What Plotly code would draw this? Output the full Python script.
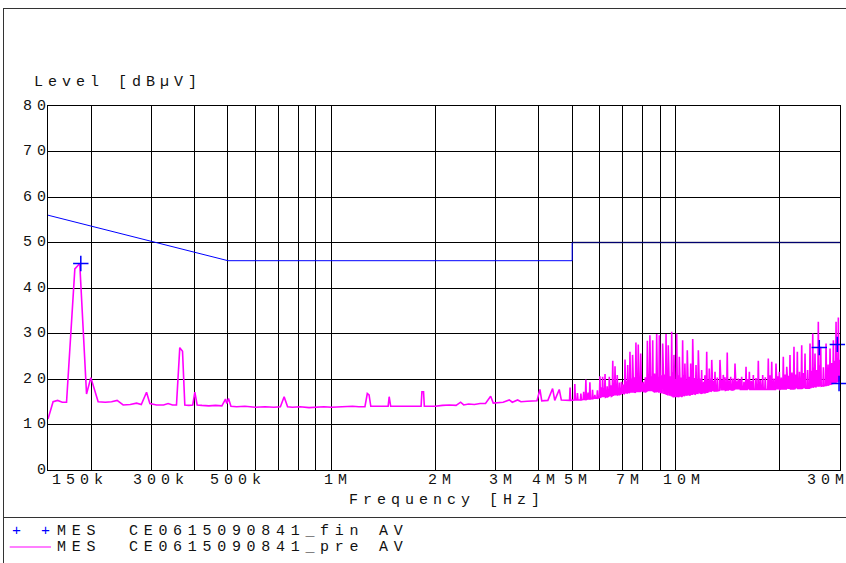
import numpy as np
import plotly.graph_objects as go

# ---------------- data ----------------
# Pre-scan (AV) trace, 150 kHz - 4.8 MHz, explicit points (MHz, dBuV)
lf_mhz = [0.150, 0.1552, 0.160, 0.165, 0.1698, 0.1795, 0.1830, 0.1855, 0.1941, 0.1998,
          0.2098, 0.2200, 0.2295, 0.2382, 0.2480, 0.2600, 0.2713, 0.2800, 0.2900, 0.2965,
          0.3100, 0.3250, 0.3350, 0.3450, 0.3543, 0.3622, 0.3689, 0.3746, 0.3850, 0.3950,
          0.4006, 0.4068, 0.4200, 0.4400, 0.4600, 0.4800, 0.4918, 0.4960, 0.5019, 0.5100,
          0.5300, 0.5600, 0.6000, 0.6400, 0.6800, 0.7100, 0.7280, 0.7450, 0.7700, 0.8100,
          0.8600, 0.9000, 0.9500, 1.000, 1.050, 1.100, 1.150, 1.200, 1.250, 1.270,
          1.285, 1.300, 1.350, 1.400, 1.460, 1.470, 1.485, 1.550, 1.650, 1.750,
          1.820, 1.830, 1.850, 1.860, 1.950, 2.000, 2.100, 2.200, 2.300, 2.371,
          2.420, 2.500, 2.600, 2.700, 2.800, 2.898, 2.950, 3.050, 3.150, 3.282,
          3.350, 3.471, 3.550, 3.700, 3.838, 3.950, 4.030, 4.080, 4.250, 4.387,
          4.450, 4.586, 4.650, 4.800]
lf_db = [11.2, 15.0, 15.3, 14.9, 14.9, 44.2, 44.9, 45.4, 16.7, 20.3,
         15.0, 14.9, 15.0, 15.3, 14.3, 14.4, 14.7, 14.4, 17.1, 14.6,
         14.3, 14.3, 14.6, 14.3, 14.3, 26.9, 26.1, 14.3, 14.2, 14.3,
         17.1, 14.3, 14.2, 14.1, 14.2, 14.1, 15.6, 14.6, 15.7, 14.0,
         13.9, 14.0, 13.8, 13.9, 13.8, 13.9, 16.1, 13.9, 13.8, 13.9,
         13.7, 13.8, 13.9, 13.8, 13.9, 13.9, 14.0, 13.9, 13.9, 16.8,
         16.5, 14.0, 14.0, 13.9, 14.0, 16.1, 14.0, 14.0, 14.0, 13.9,
         14.0, 17.2, 17.2, 14.0, 13.9, 14.0, 14.2, 14.3, 14.2, 14.9,
         14.3, 14.5, 14.4, 14.6, 14.6, 16.2, 14.7, 14.8, 14.9, 15.4,
         14.9, 15.4, 15.0, 15.1, 15.2, 15.2, 17.7, 15.2, 15.3, 17.9,
         15.3, 17.7, 15.4, 15.3]

# Pre-scan spikes 4.9 - 30 MHz: centre frequency (MHz), peak level, floor level
hf_spike_mhz = [4.93, 5.09, 5.30, 5.48, 5.63, 5.82, 6.02, 6.13, 6.23, 6.41,
                6.56, 6.66, 6.76, 6.96, 7.12, 7.25, 7.36, 7.49, 7.66, 7.78,
                7.91, 8.05, 8.27, 8.41, 8.57, 8.80, 8.96, 9.16, 9.37, 9.51,
                9.73, 9.88, 10.06, 10.24, 10.47, 10.63, 10.80, 11.05, 11.20, 11.45,
                11.63, 11.89, 12.30, 12.51, 12.72, 13.00, 13.44, 13.74, 14.11, 14.44,
                14.86, 15.19, 15.54, 16.00, 16.36, 16.80, 17.37, 17.89, 18.57, 19.00,
                19.55, 19.99, 20.53, 21.01, 21.47, 22.05, 22.55, 23.22, 23.74, 24.55,
                25.00, 25.38, 25.95, 26.37, 27.33, 28.07, 28.70, 29.22, 29.67, 29.87]
hf_spike_peak = [18.1, 18.9, 16.8, 19.9, 19.3, 16.5, 20.6, 20.5, 21.1, 20.5,
                 24.0, 22.8, 20.9, 19.4, 24.3, 23.1, 26.0, 25.3, 28.0, 27.6,
                 25.6, 19.4, 28.4, 29.6, 28.5, 29.9, 29.6, 27.8, 29.9, 27.4,
                 30.4, 25.3, 30.0, 24.9, 28.5, 23.4, 26.3, 23.4, 28.8, 23.1,
                 26.3, 22.0, 26.0, 22.3, 24.2, 21.6, 24.2, 20.9, 25.8, 20.5,
                 23.4, 20.1, 20.5, 22.7, 21.6, 20.9, 24.0, 20.9, 24.5, 23.8,
                 23.4, 21.6, 24.9, 22.7, 25.3, 27.1, 26.0, 27.4, 25.6, 27.8,
                 30.0, 25.6, 32.6, 27.1, 27.8, 26.7, 28.5, 32.6, 33.5, 24.2]
hf_spike_floor = [15.3, 15.4, 15.4, 15.5, 15.6, 15.8, 15.9, 16.0, 16.0, 16.2,
                  16.3, 16.4, 16.5, 16.7, 16.8, 16.9, 17.0, 17.0, 17.1, 17.1,
                  17.2, 17.2, 17.3, 17.3, 17.3, 17.2, 17.0, 16.8, 16.6, 16.4,
                  16.2, 16.1, 16.0, 16.1, 16.2, 16.3, 16.4, 16.5, 16.6, 16.7,
                  16.8, 16.9, 17.1, 17.2, 17.3, 17.4, 17.5, 17.5, 17.6, 17.6,
                  17.7, 17.7, 17.7, 17.7, 17.7, 17.7, 17.7, 17.7, 17.7, 17.7,
                  17.7, 17.7, 17.8, 17.8, 17.8, 17.8, 17.9, 17.9, 18.0, 18.0,
                  18.1, 18.2, 18.3, 18.4, 18.6, 18.8, 19.0, 19.2, 19.4, 19.5]

# smaller in-between spikes (dense band above the floor)
hf_small_mhz = [5.18, 5.40, 5.56, 5.73, 5.92, 6.08, 6.18, 6.32, 6.48, 6.61,
                6.71, 6.86, 7.04, 7.18, 7.30, 7.42, 7.57, 7.72, 7.85, 7.98,
                8.16, 8.34, 8.49, 8.68, 8.88, 9.06, 9.27, 9.44, 9.62, 9.80,
                9.97, 10.15, 10.35, 10.55, 10.72, 10.92, 11.12, 11.32, 11.54, 11.76,
                12.05, 12.15, 12.40, 12.60, 12.85, 13.20, 13.60, 13.90, 14.28, 14.65,
                15.02, 15.35, 15.78, 16.18, 16.58, 17.10, 17.62, 18.20, 18.80, 19.27,
                19.77, 20.25, 20.78, 21.25, 21.75, 22.30, 22.88, 23.48, 24.15, 24.78,
                25.20, 25.66, 26.15, 26.85, 27.70, 28.40, 28.95, 29.45]
hf_small_peak = [16.9, 17.2, 17.0, 17.6, 17.5, 18.2, 18.0, 18.4, 18.6, 19.0,
                 18.7, 19.2, 18.8, 19.5, 19.8, 20.1, 20.4, 19.6, 20.0, 19.2,
                 20.4, 21.0, 20.6, 21.2, 20.5, 20.8, 21.0, 20.2, 20.6, 21.5,
                 20.0, 20.8, 20.3, 20.9, 19.8, 20.5, 19.6, 20.2, 19.9, 20.1,
                 19.4, 20.8, 19.7, 20.1, 19.6, 20.3, 19.8, 20.4, 19.7, 20.1,
                 19.5, 19.9, 19.4, 20.0, 19.6, 20.2, 19.8, 20.4, 20.8, 20.1,
                 20.6, 20.3, 21.0, 20.7, 21.4, 21.0, 21.6, 21.3, 22.0, 21.8,
                 22.5, 22.0, 23.0, 22.6, 23.2, 23.5, 24.0, 24.5]
hf_small_floor = [15.4, 15.5, 15.6, 15.7, 15.8, 16.0, 16.0, 16.1, 16.2, 16.4,
                  16.4, 16.6, 16.7, 16.8, 16.9, 17.0, 17.0, 17.1, 17.1, 17.2,
                  17.2, 17.3, 17.3, 17.2, 17.1, 16.9, 16.7, 16.5, 16.3, 16.1,
                  16.0, 16.0, 16.1, 16.2, 16.3, 16.4, 16.5, 16.6, 16.7, 16.8,
                  17.0, 17.0, 17.1, 17.2, 17.3, 17.4, 17.5, 17.5, 17.6, 17.6,
                  17.7, 17.7, 17.7, 17.7, 17.7, 17.7, 17.7, 17.7, 17.7, 17.7,
                  17.7, 17.8, 17.8, 17.8, 17.8, 17.9, 17.9, 18.0, 18.0, 18.1,
                  18.2, 18.3, 18.4, 18.5, 18.7, 18.9, 19.1, 19.3]
hf_end_mhz = [30.0]
hf_end_db = [23.0]

# Final (AV) measurement points
fin_mhz = [0.1868, 26.12, 29.47, 29.81]
fin_db = [45.4, 26.9, 27.6, 19.0]

# Limit line (AV)
lim_mhz = [0.15, 0.5, 5.0, 5.0, 30.0]
lim_db = [56, 46, 46, 50, 50]

# axis
grid_mhz = [0.2, 0.3, 0.4, 0.5, 0.6, 0.7, 0.8, 0.9, 1, 2, 3, 4, 5, 6, 7, 8, 9, 10, 20]
xlabel_mhz = [0.15, 0.3, 0.5, 1, 2, 3, 4, 5, 7, 10]
xlabel_txt = ["150k", "300k", "500k", "1M", "2M", "3M", "4M", "5M", "7M", "10M"]
xlabel_last = "30M"
ytick_vals = [0, 10, 20, 30, 40, 50, 60, 70, 80]

# ---------------- build pre-scan trace ----------------
pts = list(zip(lf_mhz, lf_db))
for f, p, fl in list(zip(hf_spike_mhz, hf_spike_peak, hf_spike_floor)) + \
        list(zip(hf_small_mhz, hf_small_peak, hf_small_floor)):
    pts.append((f * 0.9965, fl))
    pts.append((f, p))
    pts.append((f * 1.0035, fl))
pts += list(zip(hf_end_mhz, hf_end_db))
pts.sort(key=lambda t: t[0])
pre_x = [p[0] for p in pts]
pre_y = [p[1] for p in pts]

# ---------------- layout helpers ----------------
W, H = 846, 563
ML, MR, MT, MB = 48, 6, 106, 93
PW = W - ML - MR
PH = H - MT - MB


def px(x):
    return (x - ML) / PW


def py(y):
    return (H - MB - y) / PH


FONT = "Liberation Mono, Courier New, monospace"
FS = 15
LS = 5.0
LS_LEG = 5.7
TXT = "#111"


def sp(t, ls=LS):
    return f'<span style="letter-spacing:{ls}px">{t}</span>'


def note(text, x, y, xref="paper", yref="paper", xanchor="left", xshift=0, color=TXT):
    return dict(text=text, xref=xref, x=x, xanchor=xanchor, xshift=xshift,
                yref=yref, y=y, yanchor="middle", showarrow=False, borderpad=0,
                font=dict(family=FONT, size=FS, color=color))


fig = go.Figure()
fig.add_trace(go.Scatter(x=lim_mhz, y=lim_db, mode="lines",
                         line=dict(color="#0000ff", width=1), showlegend=False,
                         hoverinfo="skip"))
fig.add_trace(go.Scatter(x=pre_x, y=pre_y, mode="lines",
                         line=dict(color="#ff00ff", width=1.6), showlegend=False))
fig.add_trace(go.Scatter(x=fin_mhz, y=fin_db, mode="markers",
                         marker=dict(symbol="cross-thin", size=11,
                                     line=dict(color="#0000ff", width=1.5)),
                         cliponaxis=False, showlegend=False))

annotations = []
for v in ytick_vals:
    annotations.append(note(sp(str(v)), 0, v, yref="y", xanchor="right", xshift=LS - 1))

label_shift = [29.2, 6.6, 7.4, 3.8, 3.8, 4.7, 4.2, 3.3, 5.4, 6.2]
for f, t, s in zip(xlabel_mhz, xlabel_txt, label_shift):
    annotations.append(note(sp(t), np.log10(f), py(480.7), xref="x", xanchor="center",
                            xshift=s + LS / 2))
# right-most label ends at the picture edge
annotations.append(note(sp(xlabel_last[:-1]) + xlabel_last[-1], px(845), py(480.7),
                        xanchor="right"))

annotations.append(note(sp("Level [dBµV]"), px(32.7), py(82)))
annotations.append(note(sp("Frequency [Hz]"), px(444 + LS / 2), py(500.7), xanchor="center"))

# legend block
for cx in (16, 45):
    annotations.append(note("+", px(cx), py(531.7), xanchor="center", color="#0000ff"))
for yy, name in ((531.7, "CE0615090841_fin AV"), (547, "CE0615090841_pre AV")):
    annotations.append(note(sp("MES", LS_LEG), px(55.6), py(yy)))
    annotations.append(note(sp(name, LS_LEG), px(128), py(yy)))

shapes = [
    # darker overlap of limit line with the 50 dB grid line (5 MHz - 30 MHz)
    dict(type="line", xref="x", yref="y", x0=lim_mhz[3], x1=lim_mhz[4],
         y0=lim_db[3], y1=lim_db[4],
         line=dict(color="rgba(0,0,50,0.7)", width=1.3), layer="above"),
    dict(type="line", xref="paper", yref="paper", x0=px(9.7), x1=px(51), y0=py(547), y1=py(547),
         line=dict(color="#ff00ff", width=1.2)),
    dict(type="line", xref="paper", yref="paper", x0=px(3), x1=px(850), y0=py(8.5), y1=py(8.5),
         line=dict(color="#333", width=1)),
    dict(type="line", xref="paper", yref="paper", x0=px(3.5), x1=px(3.5), y0=py(8.5), y1=py(570),
         line=dict(color="#333", width=1)),
    dict(type="line", xref="paper", yref="paper", x0=px(3), x1=px(850), y0=py(517.5), y1=py(517.5),
         line=dict(color="#333", width=1)),
]

fig.update_layout(
    width=W, height=H,
    margin=dict(l=ML, r=MR, t=MT, b=MB, pad=0),
    paper_bgcolor="white", plot_bgcolor="white",
    annotations=annotations, shapes=shapes,
    xaxis=dict(type="log", range=[np.log10(0.15), np.log10(30)], tickvals=grid_mhz,
               showticklabels=False, ticks="", showgrid=True, gridcolor="#000", gridwidth=1,
               showline=True, mirror=True, linecolor="#000", linewidth=1, zeroline=False),
    yaxis=dict(range=[0, 80], tickvals=ytick_vals, showticklabels=False, ticks="",
               showgrid=True, gridcolor="#000", gridwidth=1, showline=True, mirror=True,
               linecolor="#000", linewidth=1, zeroline=False),
    font=dict(family=FONT, size=FS, color=TXT),
)

fig.write_html("out.html", config={"displayModeBar": False},
               post_script="document.body.style.margin='0px';"
                           "document.body.style.overflow='hidden';")
